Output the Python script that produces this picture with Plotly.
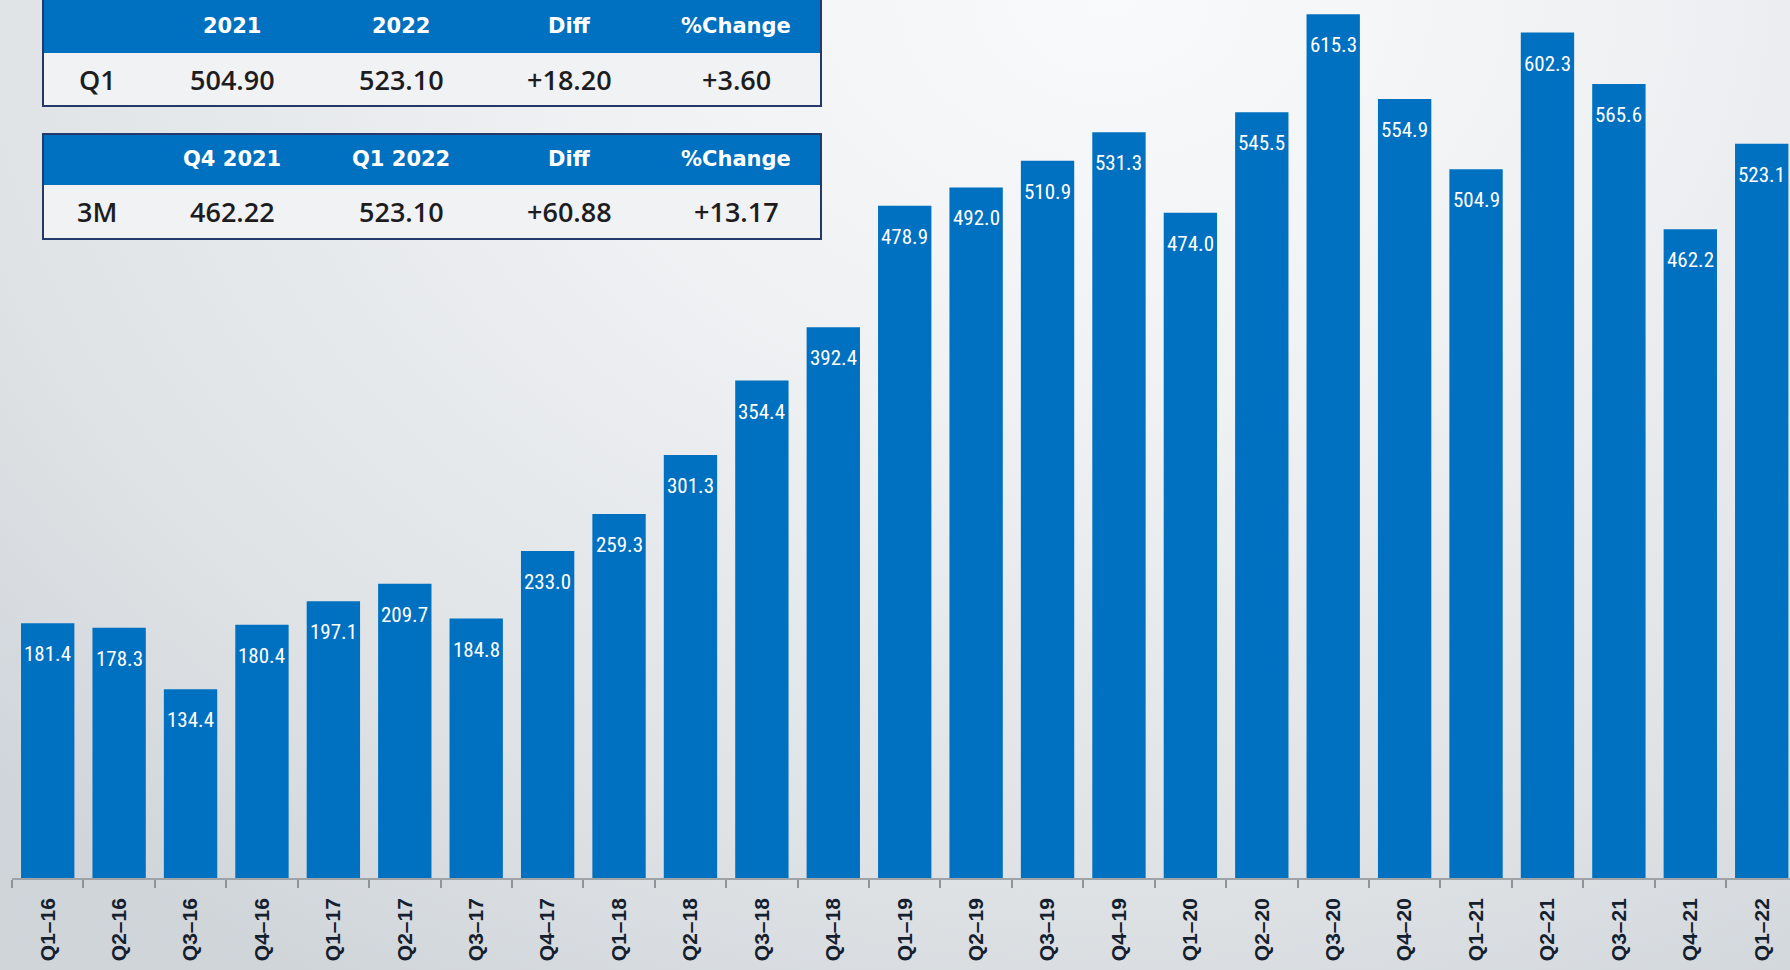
import base64
import plotly.graph_objects as go

# ---------------- data ----------------
quarters = ["Q1–16", "Q2–16", "Q3–16", "Q4–16", "Q1–17", "Q2–17", "Q3–17", "Q4–17",
            "Q1–18", "Q2–18", "Q3–18", "Q4–18", "Q1–19", "Q2–19", "Q3–19", "Q4–19",
            "Q1–20", "Q2–20", "Q3–20", "Q4–20", "Q1–21", "Q2–21", "Q3–21", "Q4–21", "Q1–22"]
values = [181.4, 178.3, 134.4, 180.4, 197.1, 209.7, 184.8, 233.0,
          259.3, 301.3, 354.4, 392.4, 478.9, 492.0, 510.9, 531.3,
          474.0, 545.5, 615.3, 554.9, 504.9, 602.3, 565.6, 462.2, 523.1]

table1_header = ["", "2021", "2022", "Diff", "%Change"]
table1_row = ["Q1", "504.90", "523.10", "+18.20", "+3.60"]
table2_header = ["", "Q4 2021", "Q1 2022", "Diff", "%Change"]
table2_row = ["3M", "462.22", "523.10", "+60.88", "+13.17"]

# ---------------- styling / geometry ----------------
W, H = 1790, 970
ML, MR, MT, MB = 12, 0, 0, 92
PW, PH = W - ML - MR, H - MT - MB
BLUE = "#0070C0"
NAVY = "#24396a"


def px(x):
    return (x - ML) / PW


def py(y):
    return (MT + PH - y) / PH


svg = f"""<svg xmlns='http://www.w3.org/2000/svg' width='{W}' height='{H}' viewBox='0 0 {W} {H}' preserveAspectRatio='none'>
<defs><radialGradient id='g' cx='0.62' cy='0.0' r='0.85' gradientTransform='translate(0.62 0) scale(1 1.4) translate(-0.62 0)'>
<stop offset='0' stop-color='#f9fafb'/>
<stop offset='0.35' stop-color='#eff1f3'/>
<stop offset='0.75' stop-color='#dfe3e6'/>
<stop offset='1' stop-color='#d0d5da'/>
</radialGradient></defs>
<rect x='0' y='0' width='{W}' height='{H}' fill='url(#g)'/>
</svg>"""
bg_uri = "data:image/svg+xml;base64," + base64.b64encode(svg.encode()).decode()

fig = go.Figure()
fig.add_trace(go.Bar(
    x=quarters, y=values,
    marker=dict(color=BLUE, line=dict(width=0)),
    hoverinfo="x+y",
))

annotations = []
for q, v in zip(quarters, values):
    annotations.append(dict(
        x=q, y=v, xref="x", yref="y", text=f"{v:.1f}", showarrow=False,
        yanchor="middle", xanchor="center", yshift=-31,
        font=dict(family="Liberation Sans Narrow, Roboto Condensed, Arial Narrow, sans-serif",
                  size=21, color="white"),
    ))

shapes = []
col_edges = [43, 150, 318, 486, 653, 821]
col_centers = [97, 232, 401, 569, 736]


def add_table(header, row, top, mid, bottom):
    # header band
    shapes.append(dict(type="rect", xref="paper", yref="paper",
                       x0=px(col_edges[0]), x1=px(col_edges[-1]), y0=py(mid), y1=py(top),
                       fillcolor=BLUE, line=dict(width=0), layer="above"))
    # body band
    shapes.append(dict(type="rect", xref="paper", yref="paper",
                       x0=px(col_edges[0]), x1=px(col_edges[-1]), y0=py(bottom), y1=py(mid),
                       fillcolor="#f1f2f4", line=dict(width=0), layer="above"))
    # outer border
    shapes.append(dict(type="rect", xref="paper", yref="paper",
                       x0=px(col_edges[0]), x1=px(col_edges[-1]), y0=py(bottom), y1=py(top),
                       fillcolor="rgba(0,0,0,0)", line=dict(width=2, color=NAVY), layer="above"))
    for cx, h in zip(col_centers, header):
        annotations.append(dict(x=px(cx), y=py((top + mid) / 2), xref="paper", yref="paper",
                                text=f"<b>{h}</b>", showarrow=False, xanchor="center", yanchor="middle",
                                font=dict(family="DejaVu Sans, Verdana, sans-serif", size=21, color="white")))
    for cx, t in zip(col_centers, row):
        annotations.append(dict(x=px(cx), y=py((mid + bottom) / 2), xref="paper", yref="paper",
                                text=t, showarrow=False, xanchor="center", yanchor="middle",
                                font=dict(family="Open Sans, DejaVu Sans, sans-serif", size=27,
                                          color="#1d1d1f", weight=600)))


add_table(table1_header, table1_row, -2, 53, 106)
add_table(table2_header, table2_row, 134, 185, 239)

fig.update_layout(
    width=W, height=H,
    margin=dict(l=ML, r=MR, t=MT, b=MB, pad=0),
    paper_bgcolor="#dde1e5",
    plot_bgcolor="rgba(0,0,0,0)",
    showlegend=False,
    bargap=0.253,
    annotations=annotations,
    shapes=shapes,
    images=[dict(source=bg_uri, xref="paper", yref="paper",
                 x=px(0), y=py(0), sizex=W / PW, sizey=H / PH,
                 xanchor="left", yanchor="top", sizing="stretch", layer="below")],
    xaxis=dict(
        range=[-0.5, 24.396], automargin=False, fixedrange=True,
        showgrid=False, zeroline=False,
        showline=True, linecolor="#9ea3a8", linewidth=1.5,
        ticks="outside", tickson="boundaries", ticklen=8, tickwidth=1.5, tickcolor="#8f949a",
        tickangle=-90, ticklabelstandoff=10,
        tickfont=dict(family="Liberation Sans, Arial, sans-serif", size=21, color="#14202e", weight="bold"),
    ),
    yaxis=dict(
        range=[0, 625.5], visible=False, fixedrange=True, automargin=False,
        showgrid=False, zeroline=False,
    ),
)

fig.write_html(
    "out.html",
    config={"displayModeBar": False},
    post_script="document.body.style.margin='0';document.body.style.overflow='hidden';",
)
